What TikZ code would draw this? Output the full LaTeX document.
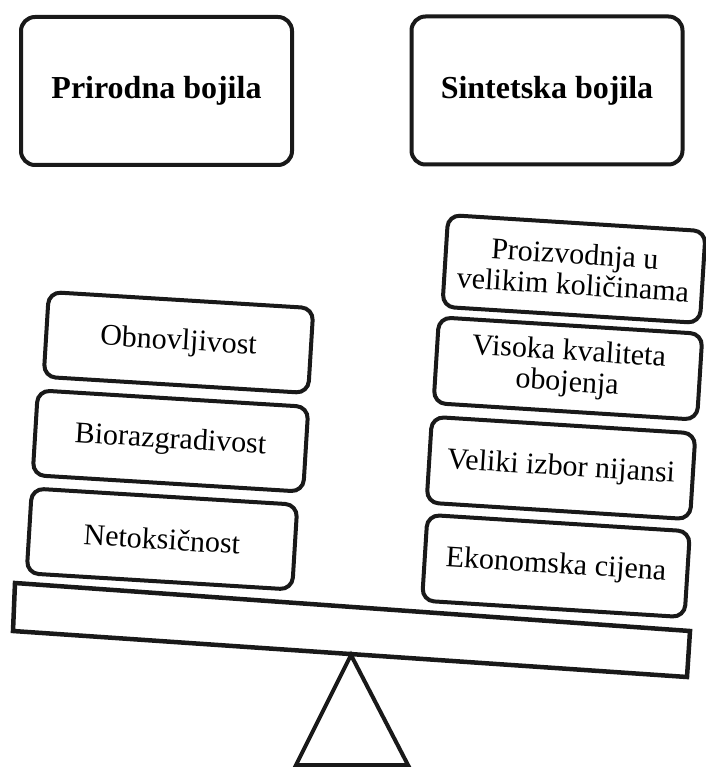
\documentclass[tikz,border=0pt]{standalone}
\usepackage{fontspec}
\setmainfont{Liberation Serif}
\tikzset{
  ink/.style={draw=black!90, line width=4pt},
  titlebox/.style={ink, rounded corners=14pt, fill=white, inner sep=0pt,
    minimum width=271pt, minimum height=148pt,
    font=\bfseries\fontsize{32}{36}\selectfont},
  stackbox/.style={ink, rounded corners=12pt, fill=white, inner sep=0pt,
    align=center, font=\fontsize{30}{31}\selectfont},
  leftbox/.style={stackbox, rotate=-3.5, minimum height=85pt},
  rightbox/.style={stackbox, rotate=-3.6, minimum height=86pt},
}
\begin{document}
\begin{tikzpicture}[x=1pt,y=-1pt]
\useasboundingbox (0,0) rectangle (705,767);

% titles
\node[titlebox] (nat) at (156.5,91) {Prirodna bojila};
\node[titlebox] (syn) at (547,90.5) {Sintetska bojila};

% left stack
\node[leftbox, minimum width=265pt] (obn) at (178.5,342.5) {Obnovljivost};
\node[leftbox, minimum width=271pt] (bio) at (170.5,441) {Biorazgradivost};
\node[leftbox, minimum width=266pt] (net) at (162,539) {Netoksičnost};

% right stack
\node[rightbox, minimum width=258pt, minimum height=92pt] (pro) at (574,269) {Proizvodnja u\\velikim količinama};
\node[rightbox, minimum width=264pt] (vis) at (568,368.5) {Visoka kvaliteta\\obojenja};
\node[rightbox, minimum width=264pt] (vel) at (561,468) {Veliki izbor nijansi};
\node[rightbox, minimum width=263pt] (eko) at (556,566) {Ekonomska cijena};

% beam
\coordinate (b1) at (15,583);
\coordinate (b2) at (690,631);
\coordinate (b3) at (687,677);
\coordinate (b4) at (13,631);
\draw[ink, line width=4.5pt, fill=white] (b1) -- (b2) -- (b3) -- (b4) -- cycle;

% fulcrum
\coordinate (t1) at (351,655);
\coordinate (t2) at (408,765);
\coordinate (t3) at (296,765);
\draw[ink] (t1) -- (t2) -- (t3) -- cycle;
\end{tikzpicture}
\end{document}
